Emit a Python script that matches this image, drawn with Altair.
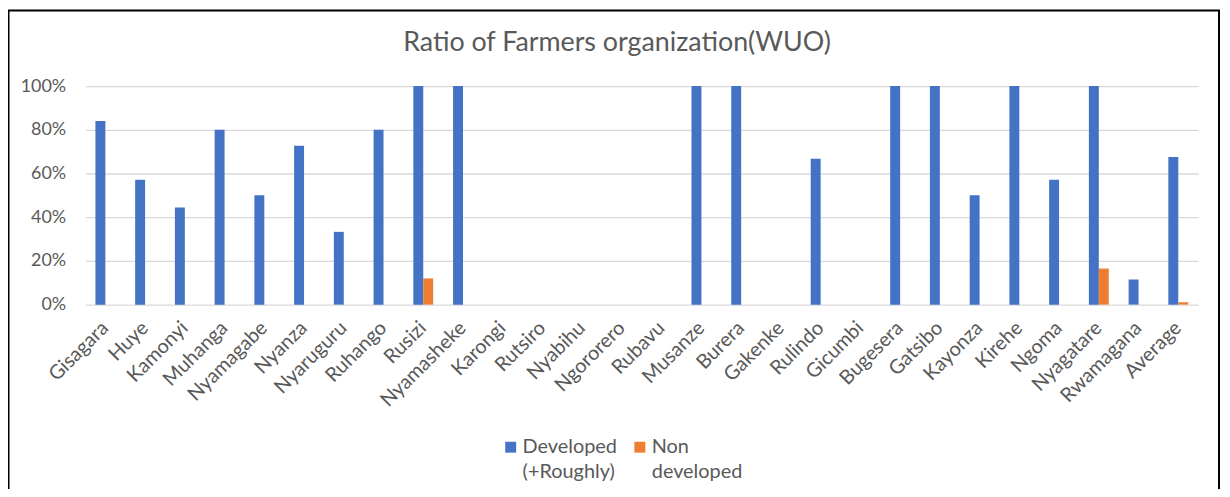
import altair as alt
import pandas as pd

categories = ["Gisagara", "Huye", "Kamonyi", "Muhanga", "Nyamagabe", "Nyanza", "Nyaruguru",
              "Ruhango", "Rusizi", "Nyamasheke", "Karongi", "Rutsiro", "Nyabihu", "Ngororero",
              "Rubavu", "Musanze", "Burera", "Gakenke", "Rulindo", "Gicumbi", "Bugesera",
              "Gatsibo", "Kayonza", "Kirehe", "Ngoma", "Nyagatare", "Rwamagana", "Average"]
developed = [0.84, 0.571, 0.444, 0.80, 0.50, 0.727, 0.333, 0.80, 1.0, 1.0, 0, 0, 0, 0, 0,
             1.0, 1.0, 0, 0.667, 0, 1.0, 1.0, 0.50, 1.0, 0.571, 1.0, 0.115, 0.675]
non_developed = [0, 0, 0, 0, 0, 0, 0, 0, 0.12, 0, 0, 0, 0, 0, 0, 0, 0, 0, 0, 0, 0, 0, 0, 0,
                 0, 0.165, 0, 0.011]
series = ["Developed (+Roughly)", "Non developed"]
colors = ["#4472C4", "#ED7D31"]

rows = []
for c, d, n in zip(categories, developed, non_developed):
    rows.append({"District": c, "Series": series[0], "Ratio": d})
    rows.append({"District": c, "Series": series[1], "Ratio": n})
df = pd.DataFrame(rows)

FONT = "Lato"
GREY = "#595959"

bars = alt.Chart(df).mark_bar().encode(
    x=alt.X("District:N", sort=categories,
            scale=alt.Scale(paddingInner=0.5, paddingOuter=0.25),
            axis=alt.Axis(title=None, labelAngle=-45, labelAlign="right", labelBaseline="middle",
                          labelPadding=20, ticks=False, domain=False, grid=False,
                          labelFontSize=20, labelColor=GREY, labelFont=FONT)),
    xOffset=alt.XOffset("Series:N", sort=series, scale=alt.Scale(paddingInner=0, paddingOuter=0)),
    y=alt.Y("Ratio:Q", scale=alt.Scale(domain=[0, 1]),
            axis=alt.Axis(title=None, format="%", values=[0, 0.2, 0.4, 0.6, 0.8, 1.0],
                          ticks=False, domain=False, grid=True, gridColor="#d9d9d9",
                          gridWidth=1.3, labelFontSize=18, labelColor=GREY, labelFont=FONT,
                          labelPadding=20)),
    color=alt.Color("Series:N", sort=series, scale=alt.Scale(domain=series, range=colors),
                    legend=alt.Legend(title=None, orient="none", legendX=418, legendY=359,
                                      direction="horizontal",
                                      symbolType="M-1,-2.0H1V0H-1Z",
                                      symbolSize=121, symbolStrokeWidth=0,
                                      labelFontSize=20, labelColor=GREY, labelFont=FONT,
                                      labelBaseline="alphabetic", labelOffset=2, columnPadding=12,
                                      labelLimit=200,
                                      labelExpr="datum.label == 'Non developed' ? ['Non', 'developed'] : ['Developed', '(+Roughly)']")),
)

frame = alt.Chart(pd.DataFrame({"d": [0]})).mark_rect(
    fill="transparent", stroke="black", strokeWidth=2, clip=False
).encode(x=alt.value(-77.5), x2=alt.value(1141), y=alt.value(-76), y2=alt.value(500))

chart = alt.layer(bars, frame).properties(
    width=1120, height=220,
    autosize="none",
    padding={"left": 78, "top": 77, "right": 24, "bottom": 184},
    title=alt.TitleParams("Ratio of Farmers organization(WUO)", fontSize=27, color=GREY,
                          font=FONT, fontWeight="normal", anchor="middle", frame="group",
                          baseline="alphabetic", offset=0, dy=69, dx=-25),
).configure(style={"guide-label": {"lineHeight": 26}}).configure_view(stroke="transparent")

chart.save("out.html", embed_options={"renderer": "svg", "actions": False})
